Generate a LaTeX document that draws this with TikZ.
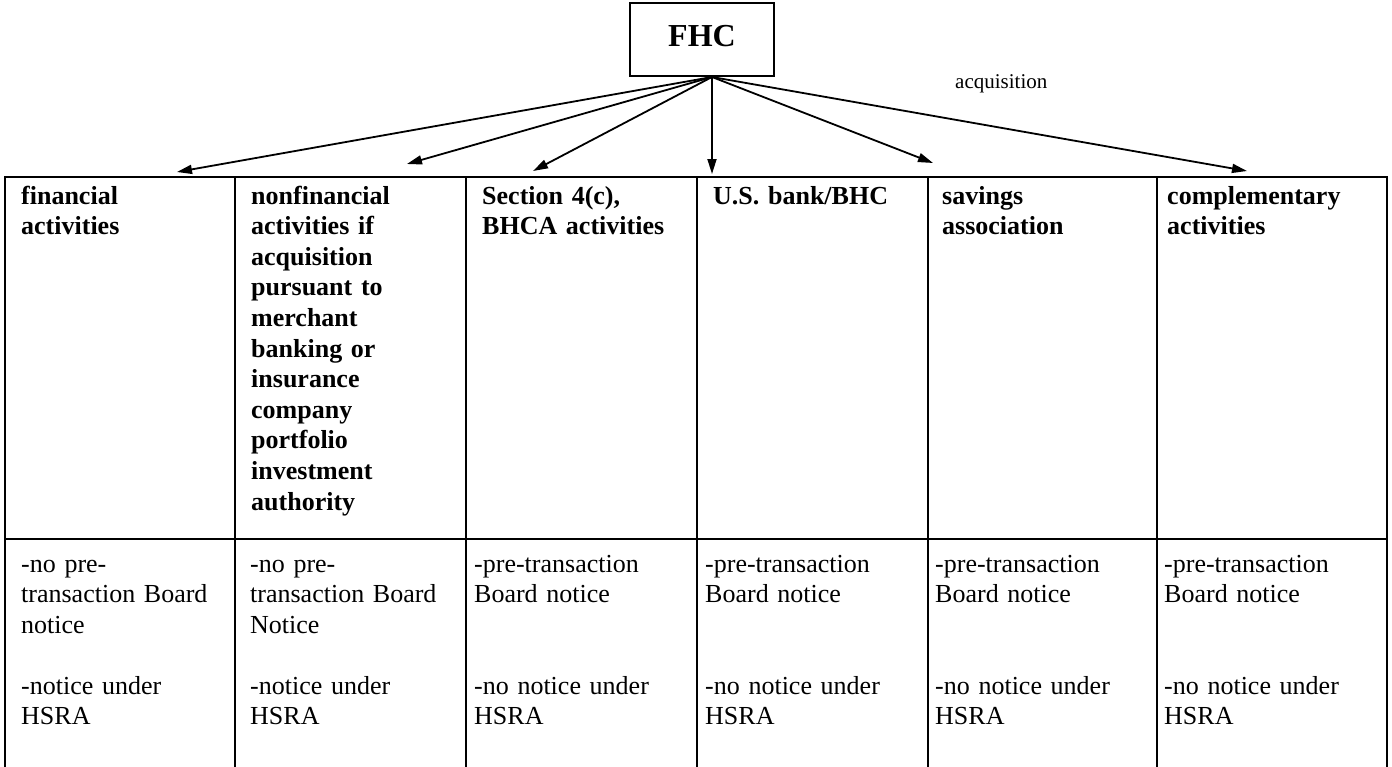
\documentclass[tikz,border=0pt]{standalone}
\usepackage{fontspec}
\setmainfont{Liberation Serif}
\usetikzlibrary{arrows.meta}
\begin{document}
\begin{tikzpicture}[x=1pt,y=-1pt,
  rule/.style={line width=2pt},
  link/.style={line width=1.8pt,-{Triangle[length=15pt,width=9pt]}},
  headtext/.style={anchor=base west,inner sep=0pt,text width=215pt,align=left,
    font=\fontsize{26}{30.6}\selectfont\bfseries},
  bodytext/.style={anchor=base west,inner sep=0pt,text width=215pt,align=left,
    font=\fontsize{26}{30.5}\selectfont},
  topbox/.style={draw,line width=2pt,minimum width=144pt,minimum height=73pt,
    inner sep=0pt,text height=21pt,text depth=8pt,font=\fontsize{32}{36}\selectfont\bfseries},
]
\useasboundingbox[fill=white] (0,0) rectangle (1392,766);

% holding company box
\node[topbox] (fhc) at (702,39.5) {FHC};
\coordinate (hub) at ([xshift=10pt]fhc.south);
\node[anchor=base west,inner sep=0pt,font=\fontsize{21}{24}\selectfont] (acq) at (955,88) {acquisition};

% table grid (open at the bottom)
\draw[rule] (5,177) -- (1387,177);
\draw[rule] (5,539) -- (1387,539);
\foreach \x in {5,235,466,697,928,1157,1387}
  \draw[rule] (\x,176) -- (\x,780);

% header row
\node[headtext] (h1) at (21,204) {financial\\activities};
\node[headtext] (h2) at (251,204) {nonfinancial\\activities if\\acquisition\\pursuant to\\merchant\\banking or\\insurance\\company\\portfolio\\investment\\authority};
\node[headtext] (h3) at (482,204) {Section 4(c),\\BHCA activities};
\node[headtext] (h4) at (713,204) {U.S. bank/BHC};
\node[headtext] (h5) at (942,204) {savings\\association};
\node[headtext] (h6) at (1167,204) {complementary\\activities};

% requirement row
\node[bodytext] (b1) at (21,572) {-no pre-\\transaction Board\\notice\\ \mbox{}\\-notice under\\HSRA};
\node[bodytext] (b2) at (250,572) {-no pre-\\transaction Board\\Notice\\ \mbox{}\\-notice under\\HSRA};
\node[bodytext] (b3) at (474,572) {-pre-transaction\\Board notice\\ \mbox{}\\ \mbox{}\\-no notice under\\HSRA};
\node[bodytext] (b4) at (705,572) {-pre-transaction\\Board notice\\ \mbox{}\\ \mbox{}\\-no notice under\\HSRA};
\node[bodytext] (b5) at (935,572) {-pre-transaction\\Board notice\\ \mbox{}\\ \mbox{}\\-no notice under\\HSRA};
\node[bodytext] (b6) at (1164,572) {-pre-transaction\\Board notice\\ \mbox{}\\ \mbox{}\\-no notice under\\HSRA};

% arrow end points above each column
\coordinate (t1) at (177,172);
\coordinate (t2) at (407,164);
\coordinate (t3) at (533,171);
\coordinate (t4) at (712,174);
\coordinate (t5) at (933,163);
\coordinate (t6) at (1247,171);
\foreach \t in {t1,t2,t3,t4,t5,t6}
  \draw[link] (hub) -- (\t);
\end{tikzpicture}
\end{document}
